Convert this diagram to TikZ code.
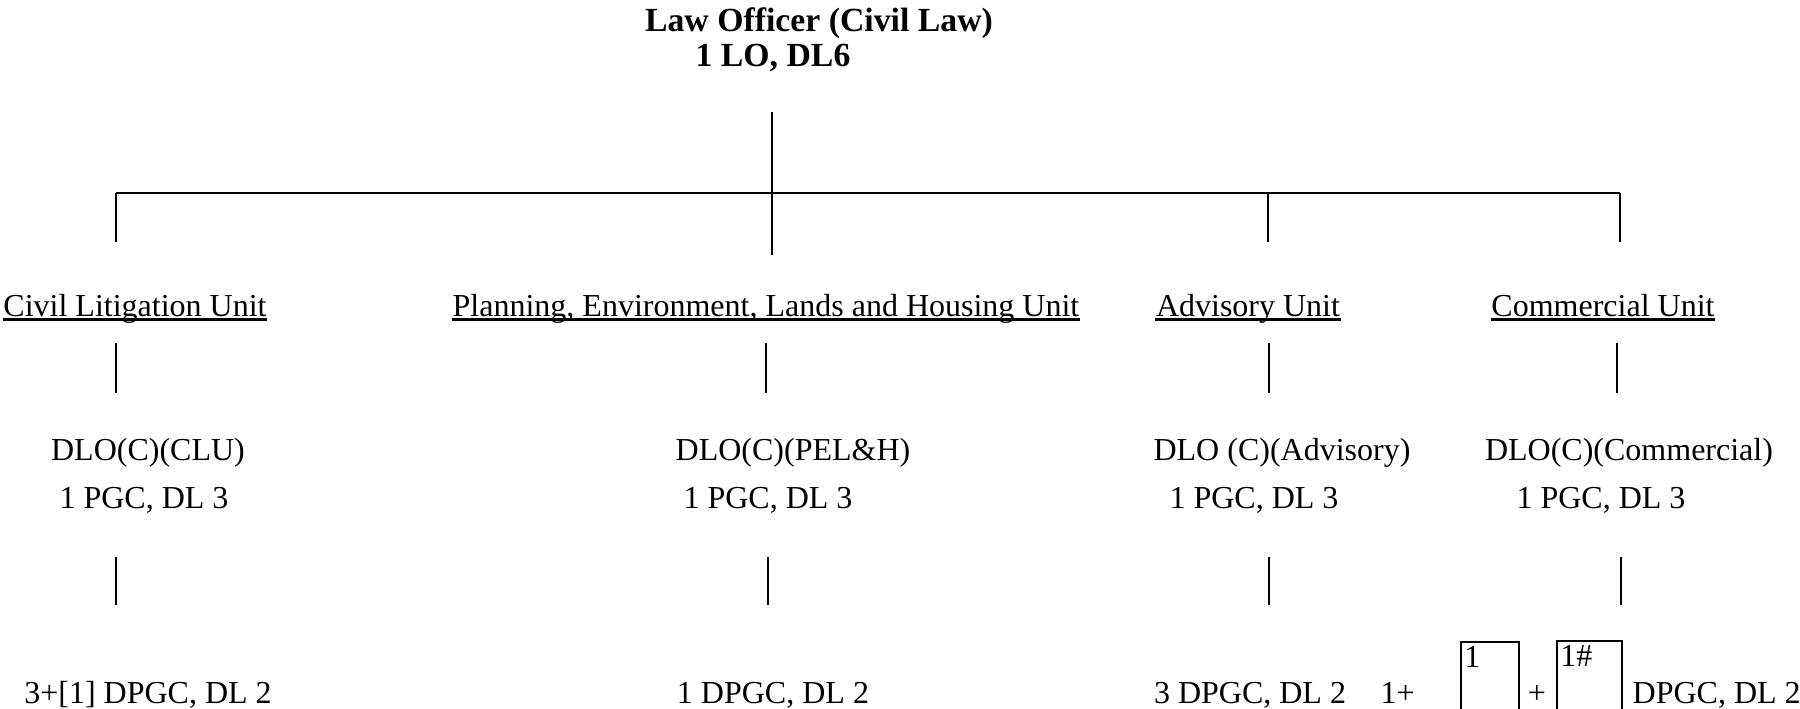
\documentclass[tikz,border=0pt]{standalone}
\usepackage{fontspec}
\setmainfont{Liberation Serif}
\usetikzlibrary{positioning}

\begin{document}
\begin{tikzpicture}[
  x=0.01cm, y=-0.01cm,
  % all text nodes sit on their baseline
  headtxt/.style={anchor=base, inner sep=0pt, font=\fontsize{9.6}{11}\selectfont\bfseries},
  unittxt/.style={anchor=base, inner sep=0pt, font=\fontsize{9.1}{11}\selectfont},
  posttxt/.style={anchor=base, inner sep=0pt, font=\fontsize{9.1}{11}\selectfont},
  slotbox/.style={draw, line width=0.45pt, anchor=north west, inner sep=1pt,
                  align=left, text height=0.22cm, text depth=0.6cm,
                  font=\fontsize{9.1}{11}\selectfont},
  ln/.style={line width=0.45pt},
  uline/.style={line width=0.8pt}
]
\useasboundingbox (0,0) rectangle (1800,708);

% Head of the division
\node[headtxt] (lo)     at (819, 31) {Law Officer (Civil Law)};
\node[headtxt] (lorank) at (773, 66) {1 LO, DL6};

% Units
\node[unittxt] (clu)  at (135, 316)  {Civil Litigation Unit};
\node[unittxt] (pelh) at (766, 316)  {Planning, Environment, Lands and Housing Unit};
\node[unittxt] (adv)  at (1248, 316) {Advisory Unit};
\node[unittxt] (com)  at (1603, 316) {Commercial Unit};

% underlines of the unit names
\draw[uline] ([yshift=-0.9pt]clu.base west)  -- ([yshift=-0.9pt]clu.base east);
\draw[uline] ([yshift=-0.9pt]pelh.base west) -- ([yshift=-0.9pt]pelh.base east);
\draw[uline] ([yshift=-0.9pt]adv.base west)  -- ([yshift=-0.9pt]adv.base east);
\draw[uline] ([yshift=-0.9pt]com.base west)  -- ([yshift=-0.9pt]com.base east);

% Deputy Law Officers
\node[posttxt] (clu-dlo)  at (148, 460)  {DLO(C)(CLU)};
\node[posttxt] (pelh-dlo) at (793, 460)  {DLO(C)(PEL\&H)};
\node[posttxt] (adv-dlo)  at (1282, 460) {DLO (C)(Advisory)};
\node[posttxt] (com-dlo)  at (1629, 460) {DLO(C)(Commercial)};

\node[posttxt] (clu-pgc)  at (144, 508)  {1 PGC, DL 3};
\node[posttxt] (pelh-pgc) at (768, 508)  {1 PGC, DL 3};
\node[posttxt] (adv-pgc)  at (1254, 508) {1 PGC, DL 3};
\node[posttxt] (com-pgc)  at (1601, 508) {1 PGC, DL 3};

% Counsel
\node[posttxt] (clu-dpgc)  at (148, 703)  {3+[1] DPGC, DL 2};
\node[posttxt] (pelh-dpgc) at (773, 703)  {1 DPGC, DL 2};
\node[posttxt] (adv-dpgc)  at (1250, 703) {3 DPGC, DL 2};

\node[posttxt, anchor=base west] (com-one) at (1380, 703) {1+};
\node[slotbox, text width=0.51cm] (com-slot1) at (1460, 641) {1};
\node[posttxt] (com-plus) at (1537, 703) {+};
\node[slotbox, text width=0.58cm] (com-slot2) at (1556, 640) {1\#};
\node[posttxt, anchor=base west] (com-dpgc) at (1632, 703) {DPGC, DL 2};

% Tree lines
\coordinate (top)  at (772, 112);
\coordinate (hub)  at (772, 193);
\coordinate (barl) at (116, 193);
\coordinate (barr) at (1620, 193);
\coordinate (bara) at (1268, 193);

\draw[ln] (top) -- (hub);
\draw[ln] (barl) -- (barr);
\draw[ln] (barl) -- (116, 242);
\draw[ln] (hub)  -- (772, 255);
\draw[ln] (bara) -- (1268, 242);
\draw[ln] (barr) -- (1620, 242);

% unit to DLO
\draw[ln] (116, 343)  -- (116, 393);
\draw[ln] (766, 343)  -- (766, 393);
\draw[ln] (1269, 343) -- (1269, 393);
\draw[ln] (1617, 343) -- (1617, 393);

% DLO to counsel
\draw[ln] (116, 557)  -- (116, 605);
\draw[ln] (768, 557)  -- (768, 605);
\draw[ln] (1269, 557) -- (1269, 605);
\draw[ln] (1621, 557) -- (1621, 605);

\end{tikzpicture}
\end{document}
